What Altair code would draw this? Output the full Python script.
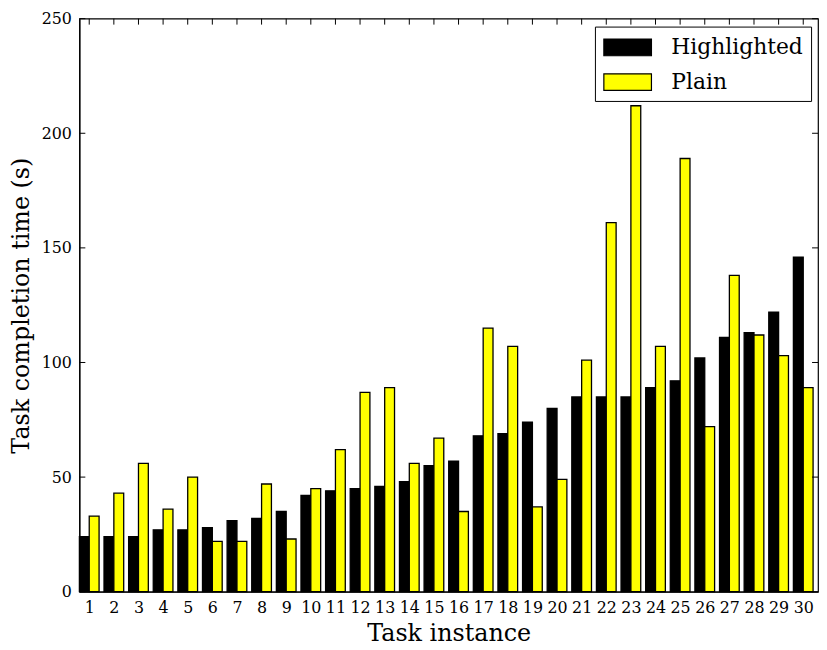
import altair as alt
import pandas as pd

tasks = list(range(1, 31))
highlighted = [24, 24, 24, 27, 27, 28, 31, 32, 35, 42, 44, 45, 46, 48, 55,
               57, 68, 69, 74, 80, 85, 85, 85, 89, 92, 102, 111, 113, 122, 146]
plain = [33, 43, 56, 36, 50, 22, 22, 47, 23, 45, 62, 87, 89, 56, 67,
         35, 115, 107, 37, 49, 101, 161, 212, 107, 189, 72, 138, 112, 103, 89]
series = ["Highlighted", "Plain"]
colors = ["#000000", "#ffff00"]
y_ticks = [0, 50, 100, 150, 200, 250]

W, H = 745, 578
FONT = "DejaVu Serif"
XT = "Task instance"
YT = "Task completion time (s)"

df = pd.DataFrame({
    "task": tasks * 2,
    "time": highlighted + plain,
    "series": [series[0]] * len(tasks) + [series[1]] * len(tasks),
})

xscale = alt.Scale(domain=[0.6, 30.6], nice=False, zero=False)
yscale = alt.Scale(domain=[0, 250], nice=False)
xaxis = alt.Axis(values=tasks, title=XT, format="d")
yaxis = alt.Axis(values=y_ticks, title=YT)

bars = alt.Chart(df).transform_calculate(
    x0="datum.series == 'Highlighted' ? datum.task - 0.4 : datum.task",
    base="0"
).transform_calculate(
    x1="datum.x0 + 0.4"
).mark_bar(stroke="black", strokeWidth=1.3).encode(
    x=alt.X("x0:Q", scale=xscale, axis=xaxis),
    x2="x1:Q",
    y=alt.Y("time:Q", scale=yscale, axis=yaxis),
    y2="base:Q",
    fill=alt.Fill("series:N", scale=alt.Scale(domain=series, range=colors),
                  legend=alt.Legend(
                      title=None, orient="none", legendX=520, legendY=8,
                      strokeColor="black", fillColor="white", padding=8,
                      cornerRadius=0, zindex=1,
                      symbolType="M-1,-0.7L3,-0.7L3,0.7L-1,0.7Z",
                      symbolSize=576, symbolStrokeColor="black",
                      symbolStrokeWidth=1.2, labelFontSize=22,
                      labelFont=FONT, labelColor="black", labelOffset=43,
                      rowPadding=11)),
)

ytick_df = pd.DataFrame({"time": y_ticks})
xtick_df = pd.DataFrame({"x0": tasks})

left_ticks = alt.Chart(ytick_df).mark_rule(color="black", strokeWidth=1).encode(
    y=alt.Y("time:Q", scale=yscale, axis=yaxis), x=alt.value(0), x2=alt.value(6))
right_ticks = alt.Chart(ytick_df).mark_rule(color="black", strokeWidth=1).encode(
    y=alt.Y("time:Q", scale=yscale, axis=yaxis), x=alt.value(W - 6), x2=alt.value(W))
top_ticks = alt.Chart(xtick_df).mark_rule(color="black", strokeWidth=1).encode(
    x=alt.X("x0:Q", scale=xscale, axis=xaxis), y=alt.value(0), y2=alt.value(6))

chart = alt.layer(bars, left_ticks, right_ticks, top_ticks).properties(
    width=W, height=H,
    autosize=alt.AutoSizeParams(type="none"),
    padding={"left": 72, "top": 8, "right": 1, "bottom": 52},
).configure_view(
    stroke="black", strokeWidth=1.2
).configure_axis(
    labelFont=FONT, titleFont=FONT, labelColor="black", titleColor="black",
    titleFontWeight="normal", grid=False, ticks=False, tickSize=0,
    domainColor="black", domainWidth=1.2,
).configure_axisX(
    labelFontSize=16, titleFontSize=24, labelPadding=8, titlePadding=6,
    labelAngle=0,
).configure_axisY(
    labelFontSize=16, titleFontSize=24, labelPadding=8, titlePadding=8,
)

chart.save("out.html", embed_options={"renderer": "svg", "actions": False})
